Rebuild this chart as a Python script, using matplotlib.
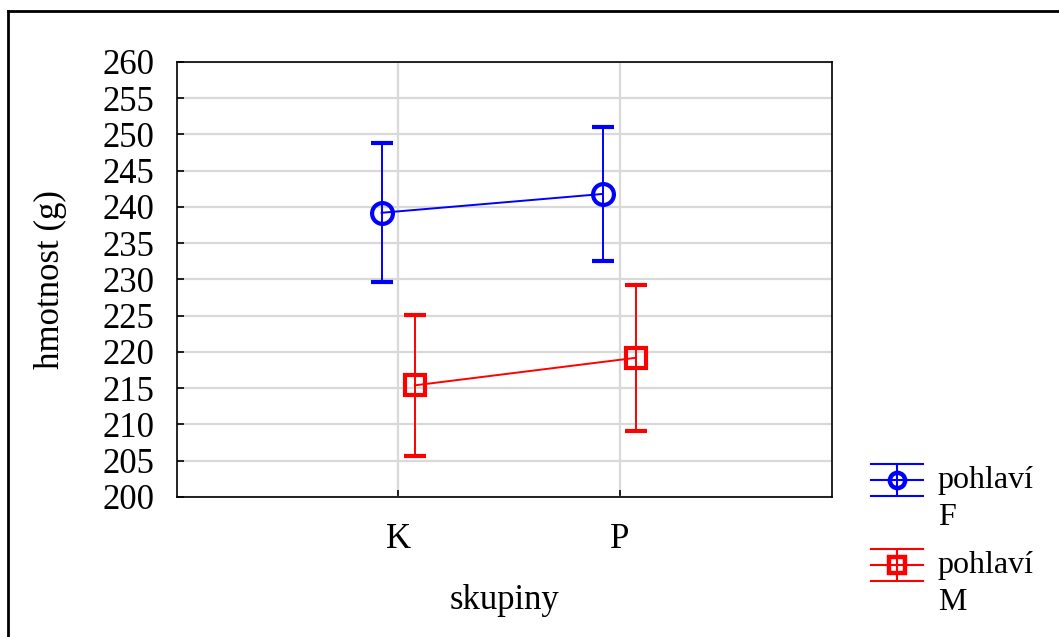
import matplotlib
matplotlib.use("Agg")
import matplotlib.pyplot as plt
from matplotlib.lines import Line2D
from matplotlib.legend_handler import HandlerBase
import numpy as np

plt.rcParams['font.family'] = ['Liberation Serif', 'DejaVu Serif']

groups = ["K", "P"]
f_mean = [239.2, 241.8]
f_err = [9.6, 9.2]
m_mean = [215.4, 219.2]
m_err = [9.7, 10.1]
series_labels = ["pohlaví\nF", "pohlaví\nM"]


class ErrHandler(HandlerBase):
    # legend key: three horizontal lines, a vertical bar and the marker
    def __init__(self, color, marker, shift):
        super().__init__()
        self.color = color
        self.marker = marker
        self.shift = shift

    def create_artists(self, legend, orig_handle, xdescent, ydescent, width, height, fontsize, trans):
        cy = height / 2 - ydescent + self.shift
        x0 = -xdescent
        x1 = x0 + width
        xc = (x0 + x1) / 2
        d = 11.5
        arts = []
        for yy in (cy - d, cy, cy + d):
            arts.append(Line2D([x0, x1], [yy, yy], color=self.color, lw=1.5))
        arts.append(Line2D([xc, xc], [cy - d, cy + d], color=self.color, lw=1.5))
        arts.append(Line2D([xc], [cy], color=self.color, marker=self.marker, ms=11,
                           mfc='none', mew=3.2))
        for a in arts:
            a.set_transform(trans)
        return arts


fs = 25
fig = plt.figure(figsize=(10.59, 6.37), dpi=100)
ax = fig.add_axes([0.1671, 0.2198, 0.6185, 0.6829])

x = np.arange(len(groups))
off = 0.075
h1 = ax.errorbar(x - off, f_mean, yerr=f_err, color='#0000ff', marker='o', ms=15,
                 mfc='none', mew=3, lw=1.4, elinewidth=1.4, capsize=8, capthick=1.3,
                 label=series_labels[0], zorder=3)
h2 = ax.errorbar(x + off, m_mean, yerr=m_err, color='#ff0000', marker='s', ms=15,
                 mfc='none', mew=3, lw=1.4, elinewidth=1.4, capsize=8, capthick=1.3,
                 label=series_labels[1], zorder=3)

ax.set_xlim(-1.0, 1.96)
ax.set_ylim(200, 260)
ax.set_yticks(np.arange(200, 261, 5))
ax.set_xticks(x)
ax.set_xticklabels(groups)
ax.grid(True, color='#d9d9d9', lw=1.6)
ax.set_axisbelow(True)
for s in ax.spines.values():
    s.set_linewidth(1.2)
ax.tick_params(direction='in', length=5, width=1.2, labelsize=fs)
ax.tick_params(axis='y', pad=16)
ax.tick_params(axis='x', pad=19)
ax.set_xlabel("skupiny", fontsize=fs, labelpad=20)
ax.set_ylabel("hmotnost (g)", fontsize=fs, labelpad=26)

leg = fig.legend(handles=[h1, h2], loc='upper left', bbox_to_anchor=(0.795, 0.314),
                 frameon=False, fontsize=23, handlelength=1.65, handletextpad=0.45,
                 labelspacing=0.6,
                 handler_map={h1: ErrHandler('#0000ff', 'o', 13.5),
                              h2: ErrHandler('#ff0000', 's', 13.5)})
for t in leg.get_texts():
    t.set_linespacing(1.37)

# outer frame
fig.add_artist(Line2D([0.008, 1.0], [1 - 11 / 637, 1 - 11 / 637], color='black', lw=2,
                      transform=fig.transFigure))
fig.add_artist(Line2D([0.008, 0.008], [0.0, 1 - 11 / 637], color='black', lw=2,
                      transform=fig.transFigure))

fig.savefig("out.png", dpi=100)
